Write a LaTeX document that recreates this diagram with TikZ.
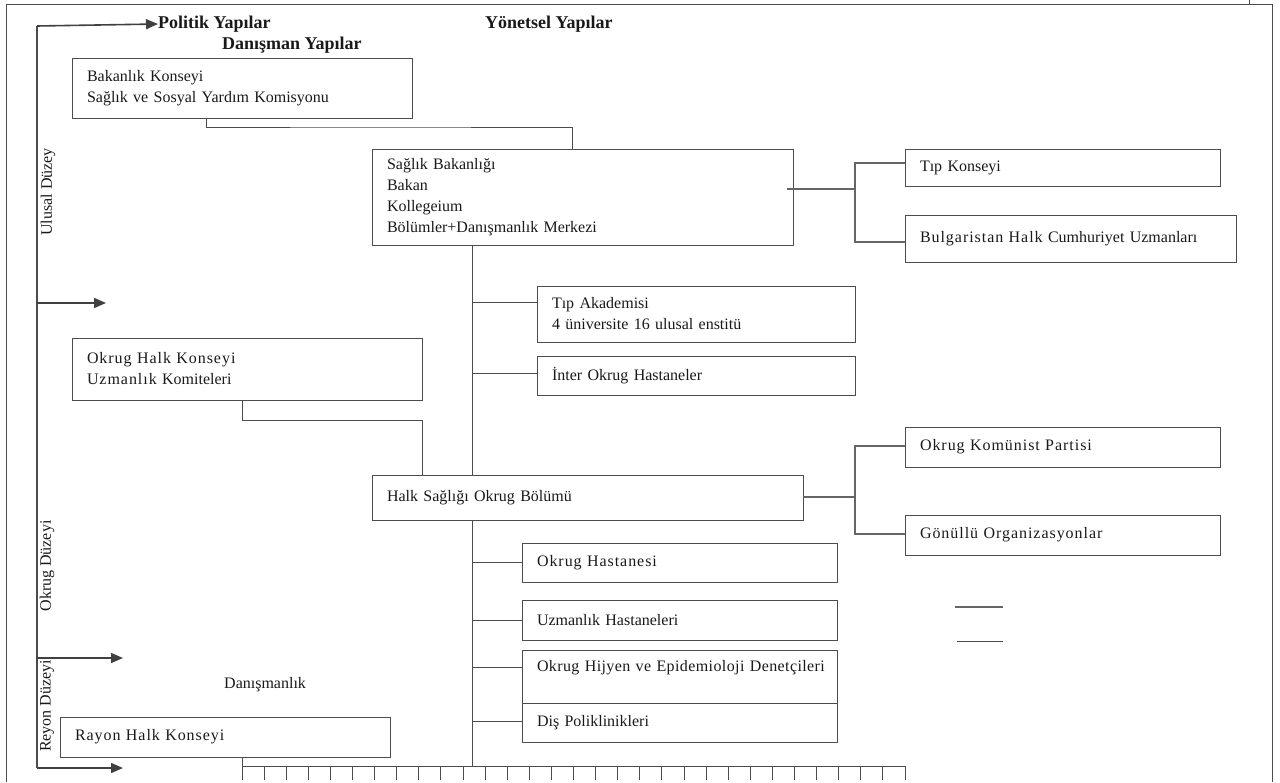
\documentclass[tikz,border=0pt]{standalone}
\usepackage{fontspec}
\setmainfont{Liberation Serif}
\newfontfamily\spc[LetterSpace=6]{Liberation Serif}
\newfontfamily\spcs[LetterSpace=2.5]{Liberation Serif}
\usetikzlibrary{arrows.meta,calc}
\tikzset{
 bx/.style={draw=black!70, line width=0.9pt, anchor=north west, inner xsep=15pt, inner ysep=2pt, align=left, font=\fontsize{16}{21}\selectfont, text=black!90, outer sep=0pt},
 ln/.style={draw=black!70, line width=0.9pt},
 dl/.style={draw=black!60, line width=1.7pt},
 arr/.style={draw=black!75, line width=1.6pt, -{Triangle[length=12pt,width=10pt]}},
 hd/.style={font=\fontsize{18}{20}\selectfont\bfseries, text=black!90, inner sep=0pt, anchor=west},
 lv/.style={font=\fontsize{16}{18}\selectfont, text=black!90, rotate=90, inner sep=0pt},
 tx/.style={font=\fontsize{16}{18}\selectfont, text=black!90, inner sep=0pt, anchor=west},
}
\newcommand\bxn[6]{\node[bx, text width=\dimexpr#4pt-30pt\relax, minimum height=#5pt] (#1) at (#2,#3) {#6};}
\begin{document}
\begin{tikzpicture}[x=1pt,y=-1pt]
\useasboundingbox (0,0) rectangle (1280,782);
% frame
\draw[ln] (6,782) -- (6,4) -- (1272,4) -- (1272,782);
\draw[ln] (1249,0) -- (1249,4);
% headers
\node[hd] (pol) at (158,24) {Politik Yapılar};
\node[hd] (yon) at (485,24) {Yönetsel Yapılar};
\node[hd] (dan) at (222,45) {Danışman Yapılar};
% level labels
\node[lv] (ulu) at (48,192) {Ulusal Düzey};
\node[lv] (okd) at (47,566) {Okrug Düzeyi};
\node[lv] (rey) at (47,706) {Reyon Düzeyi};
\node[tx] (dnl) at (224,685) {Danışmanlık};
% inner axis and arrows
\coordinate (itop) at (37,26);
\coordinate (ibot) at (37,768);
\coordinate (a2s) at (37,303); \coordinate (a2e) at (106,303);
\coordinate (a3s) at (37,658); \coordinate (a3e) at (123,658);
\coordinate (a4e) at (123,768);
\draw[ln, line width=1.2pt] (itop) -- (ibot);
\draw[arr] (itop) -- (pol.west);
\draw[arr] (a2s) -- (a2e);
\draw[arr] (a3s) -- (a3e);
\draw[arr] (ibot) -- (a4e);
% boxes
\bxn{bak}{72}{58}{340}{60}{Bakanlık Konseyi\\Sağlık ve Sosyal Yardım Komisyonu}
\bxn{sag}{372}{149}{421}{96}{Sağlık Bakanlığı\\Bakan\\Kollegeium\\Bölümler+Danışmanlık Merkezi}
\bxn{tipk}{905}{149}{315}{37}{Tıp Konseyi}
\bxn{bulg}{905}{215}{331}{47}{\mbox{{\spc Bulgaristan Halk} Cumhuriyet Uzmanları}}
\bxn{tipak}{537}{286}{318}{56}{Tıp Akademisi\\4 üniversite 16 ulusal enstitü}
\bxn{inter}{537}{356}{318}{39}{İnter Okrug Hastaneler}
\bxn{okhk}{72}{338}{350}{62}{{\spc Okrug Halk Konseyi}\\{\spc Uzmanlık} Komiteleri}
\bxn{halk}{372}{475}{431}{45}{Halk Sağlığı Okrug Bölümü}
\bxn{okp}{905}{427}{315}{40}{{\spc Okrug Komünist Partisi}}
\bxn{gon}{905}{515}{315}{40}{{\spc Gönüllü Organizasyonlar}}
\bxn{okh}{522}{543}{315}{39}{{\spc Okrug Hastanesi}}
\bxn{uzh}{522}{600}{315}{40}{Uzmanlık Hastaneleri}
\bxn{hij}{522}{650}{315}{53}{\mbox{\spcs Okrug Hijyen ve Epidemioloji Denetçileri}\\\mbox{}}
\bxn{dis}{522}{703}{315}{39}{Diş Poliklinikleri}
\bxn{ray}{60}{717}{330}{40}{{\spc Rayon Halk Konseyi}}
% advisory connectors
\draw[ln] ($(bak.south west)+(134,0)$) |- ($(bak.south west)+(300,9)$) -| ($(sag.north west)+(200,0)$);
\draw[ln] ($(okhk.south west)+(170,0)$) |- ($(okhk.south east)+(0,20)$) -- (okhk.south east |- halk.north);
% trunk
\coordinate (trunk) at (472,0);
\coordinate (bl0) at (242,766);
\coordinate (bl1) at (905,766);
\draw[ln] (sag.south -| trunk) -- (halk.north -| trunk);
\draw[ln] (halk.south -| trunk) -- (bl0 -| trunk);
\coordinate (b1) at ($(tipak.north west)+(0,16)$);
\coordinate (b2) at ($(inter.north west)+(0,17)$);
\coordinate (b3) at ($(hij.north west)+(0,17)$);
\coordinate (b4) at ($(dis.north west)+(0,18)$);
\draw[ln] (b1 -| trunk) -- (b1);
\draw[ln] (b2 -| trunk) -- (b2);
\draw[ln] (okh.west -| trunk) -- (okh.west);
\draw[ln] (uzh.west -| trunk) -- (uzh.west);
\draw[ln] (b3 -| trunk) -- (b3);
\draw[ln] (b4 -| trunk) -- (b4);
% side connectors (thick)
\coordinate (j1) at (855,189);
\coordinate (s1) at ($(sag.north east)+(-6,40)$);
\coordinate (t1) at ($(tipk.north west)+(0,14)$);
\coordinate (t2) at ($(bulg.north west)+(0,27)$);
\draw[dl] (s1) -- (j1);
\draw[dl] (t1) -| (j1) |- (t2);
\coordinate (j2) at (855,497);
\coordinate (t3) at ($(okp.north west)+(0,19)$);
\coordinate (t4) at ($(gon.north west)+(0,19)$);
\draw[dl] (halk.east |- j2) -- (j2);
\draw[dl] (t3) -| (j2) |- (t4);
% bottom line with ticks
\draw[ln] (ray.south -| bl0) -- (bl0) -- (bl1);
\foreach \i in {0,...,30} \draw[ln] ($(bl0)+(\i*22.1,0)$) -- ++(0,14);
% legend lines
\draw[dl] (955,607) -- (1003,607);
\draw[ln] (957,641) -- (1003,641);
\end{tikzpicture}
\end{document}
